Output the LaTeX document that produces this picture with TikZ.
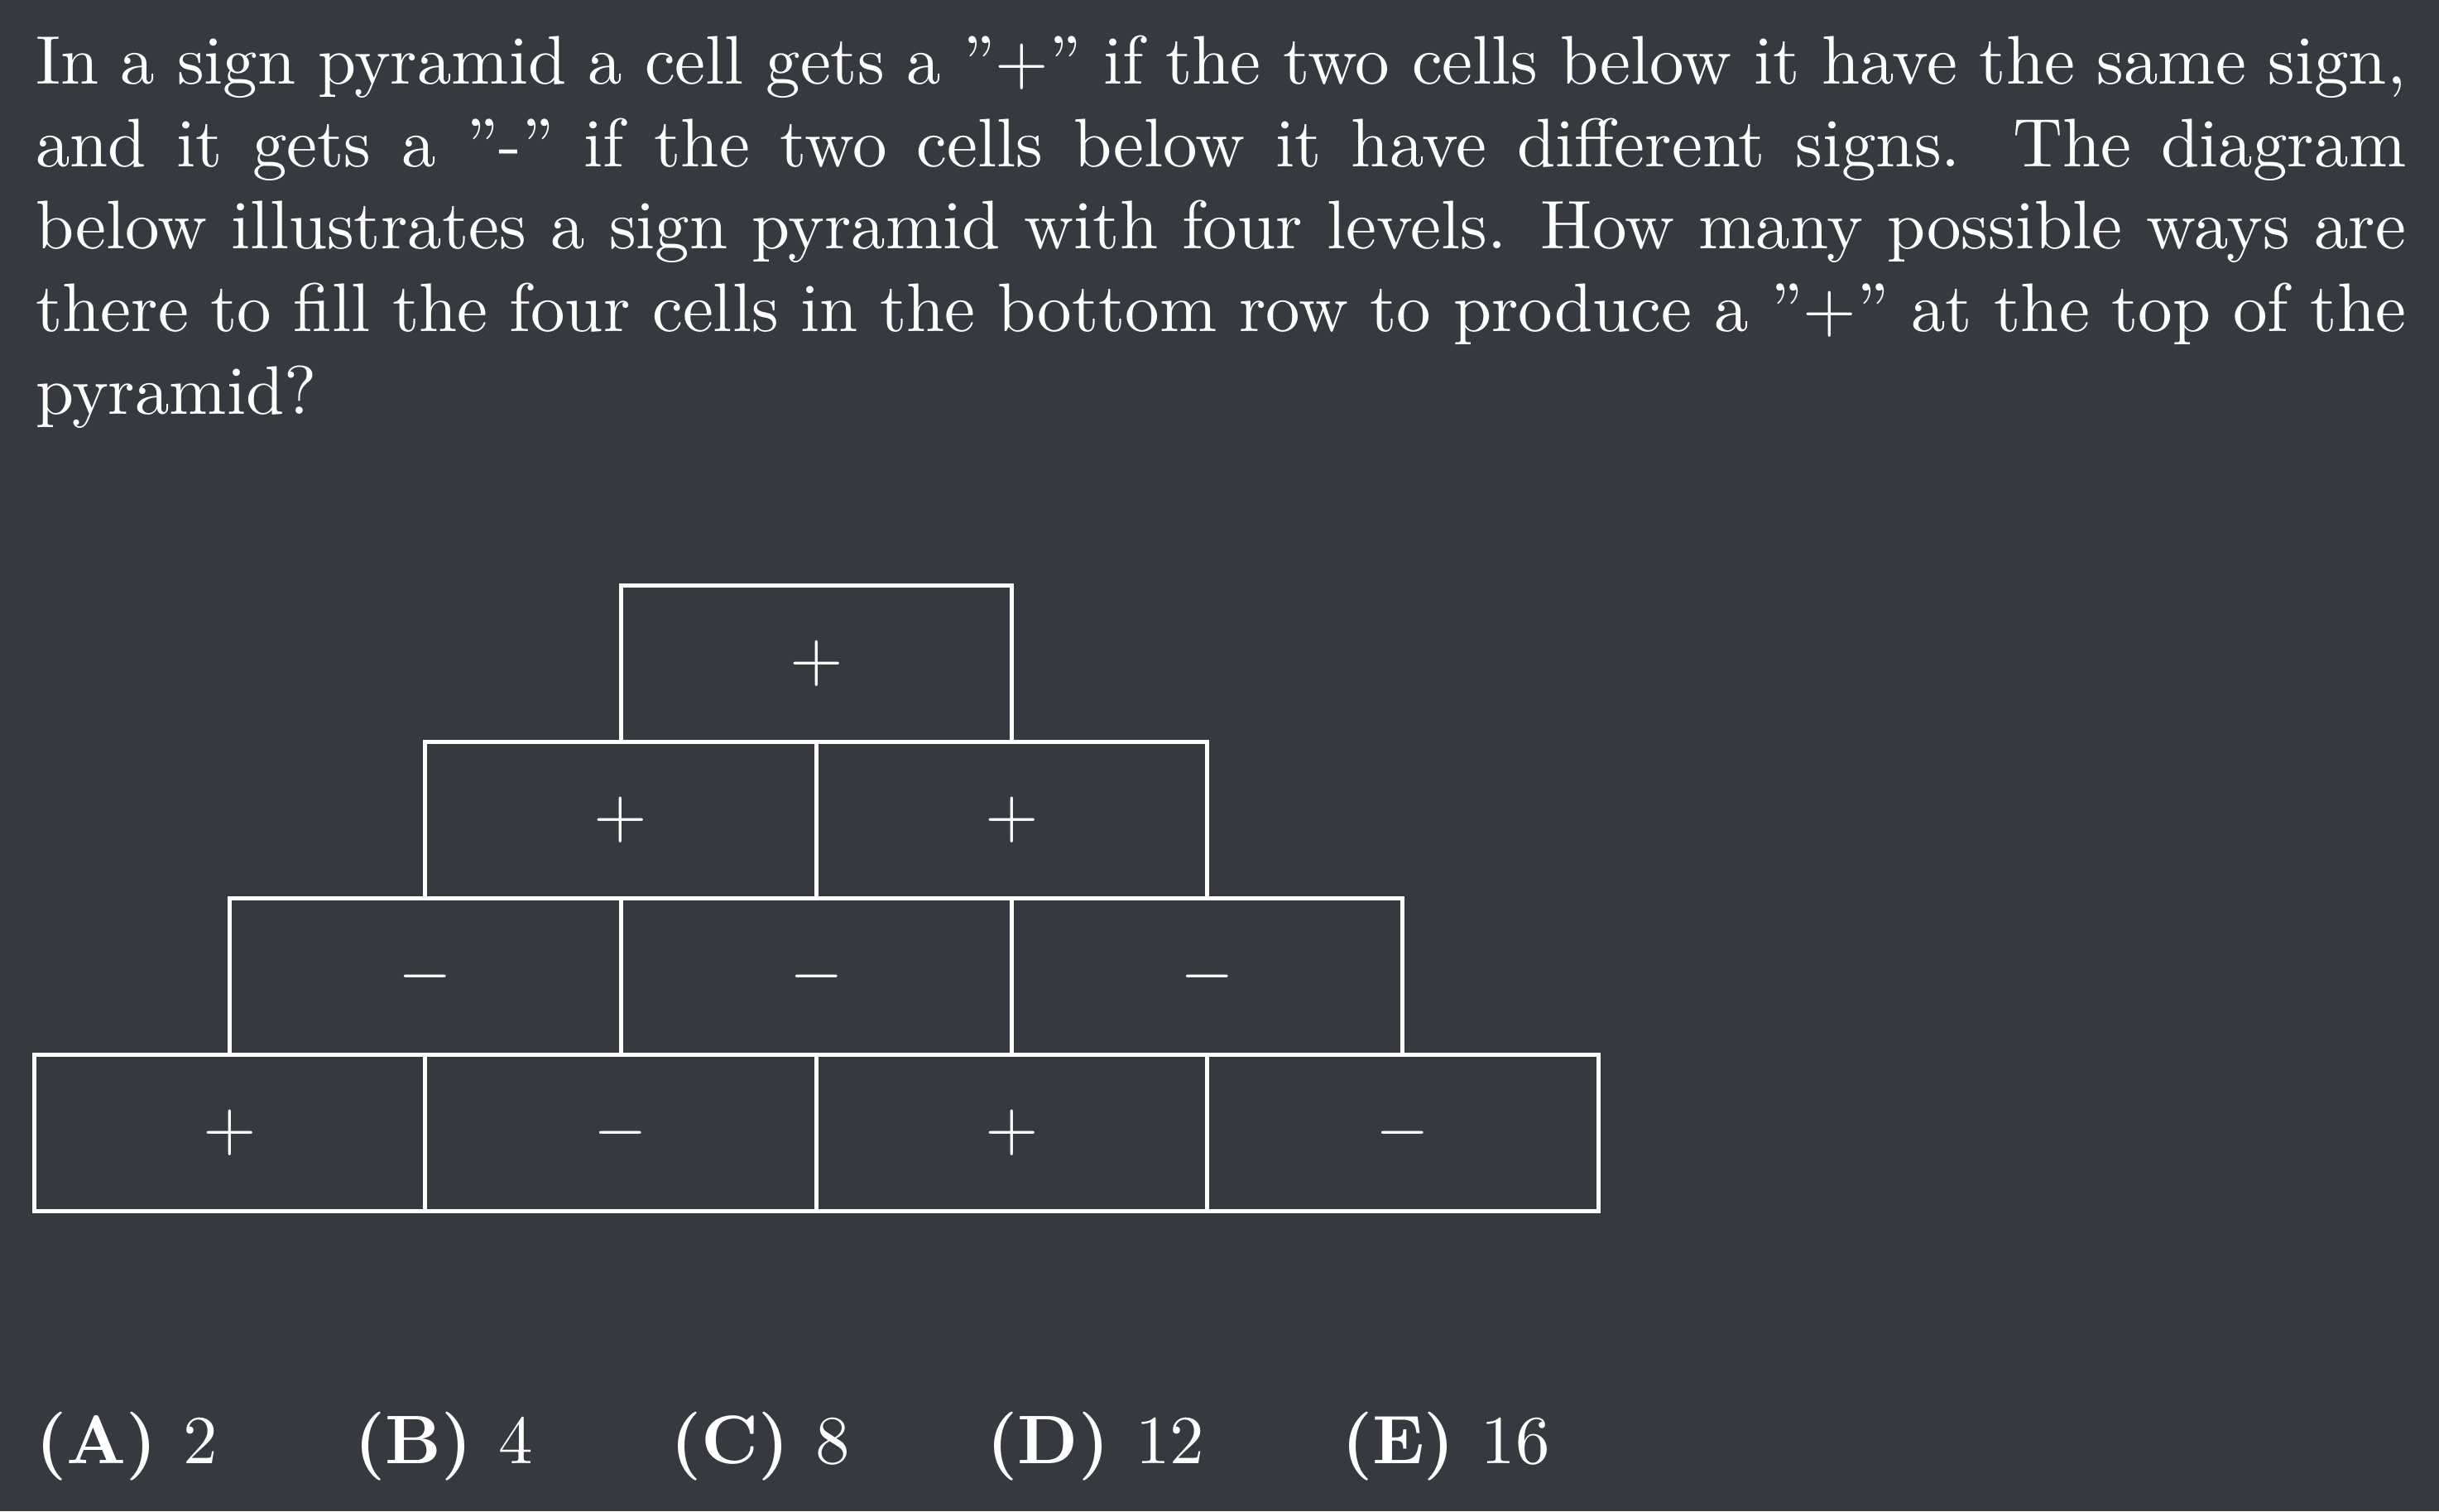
\documentclass[tikz,border=0pt]{standalone}
\usepackage{amsmath, amssymb}
\definecolor{bgdark}{RGB}{54,57,63}

\begin{document}
\begin{tikzpicture}[
    cell/.style={rectangle, draw=white, semithick, text=white, minimum width=2cm, minimum height=0.8cm, inner sep=0pt},
    txt/.style={text=white, inner sep=0pt}
]
    % Background and page size
    \fill[bgdark] (0,0) rectangle (355pt,-220pt);
    \useasboundingbox (0,0) rectangle (355pt,-220pt);

    % Question
    \node[txt, anchor=north west, text width=345pt, align=justify] (question) at (5pt,-5pt)
        {In a sign pyramid a cell gets a ''+'' if the two cells below it have the same sign, and it gets a ''-'' if the two cells below it have different signs. The diagram below illustrates a sign pyramid with four levels. How many possible ways are there to fill the four cells in the bottom row to produce a ''+'' at the top of the pyramid?};

    % Draw cells
    \begin{scope}[shift={(5pt,-176.3pt)}]
        \node[cell] (b1) at (1,0.4) {$+$};
        \node[cell] (b2) at (3,0.4) {$-$};
        \node[cell] (b3) at (5,0.4) {$+$};
        \node[cell] (b4) at (7,0.4) {$-$};

        \node[cell] (c1) at (2,1.2) {$-$};
        \node[cell] (c2) at (4,1.2) {$-$};
        \node[cell] (c3) at (6,1.2) {$-$};

        \node[cell] (d1) at (3,2) {$+$};
        \node[cell] (d2) at (5,2) {$+$};

        \node[cell] (top) at (4,2.8) {$+$};
    \end{scope}

    % Choices
    \node[txt, anchor=base west] (choices) at (5pt,-213pt)
        {$\textbf{(A) }2\qquad\textbf{(B) }4\qquad\textbf{(C) }8\qquad\textbf{(D) }12\qquad\textbf{(E) }16$};
\end{tikzpicture}
\end{document}
